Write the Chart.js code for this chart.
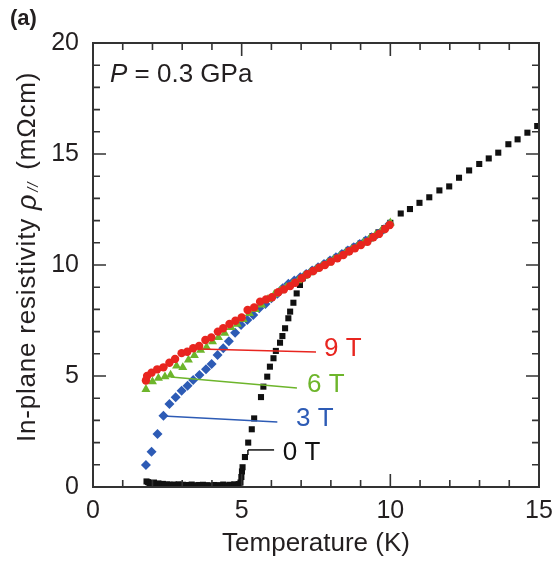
<!DOCTYPE html>
<html><head><meta charset="utf-8">
<script src="https://cdn.jsdelivr.net/npm/chart.js@4/dist/chart.umd.min.js"></script>
<style>html,body{margin:0;padding:0;background:#fff;}#wrap{width:556px;height:567px;}</style>
</head><body><div id="wrap"><canvas id="c" width="556" height="567"></canvas></div>
<script>
// ---- data (Temperature in K, resistivity in mOhm cm) ----
const T_0T = [1.80,1.85,1.90,1.97,2.05,2.12,2.20,2.28,2.35,2.42,2.50,2.58,2.65,2.72,2.80,2.88,2.95,3.02,3.10,3.18,3.25,3.32,3.40,3.48,3.55,3.62,3.70,3.78,3.85,3.92,4.00,4.08,4.15,4.22,4.30,4.38,4.45,4.52,4.60,4.68,4.75,4.82,4.90,4.96,4.99,5.01,5.03,5.11,5.22,5.34,5.42,5.65,5.73,5.86,5.95,6.07,6.15,6.29,6.37,6.46,6.57,6.63,6.74,6.85,6.96,7.05,7.20,7.40,7.60,7.80,8.00,8.20,8.40,8.60,8.80,9.00,9.20,9.40,9.60,9.80,10.00,10.35,10.66,10.98,11.31,11.65,11.98,12.31,12.65,12.99,13.31,13.63,13.97,14.28,14.61,14.94];
const R_0T = [0.25,0.22,0.18,0.15,0.20,0.12,0.16,0.10,0.14,0.08,0.12,0.10,0.06,0.11,0.08,0.12,0.07,0.10,0.05,0.09,0.06,0.11,0.07,0.05,0.09,0.06,0.10,0.05,0.08,0.06,0.04,0.09,0.05,0.08,0.06,0.11,0.05,0.07,0.10,0.06,0.12,0.08,0.13,0.20,0.45,0.70,0.89,1.35,2.00,2.60,3.09,4.05,4.52,4.97,5.42,5.80,6.13,6.50,6.80,7.15,7.60,7.90,8.30,8.72,9.10,9.40,9.60,9.75,9.90,10.05,10.20,10.35,10.50,10.68,10.82,10.97,11.12,11.30,11.47,11.66,11.90,12.32,12.52,12.80,13.05,13.36,13.54,13.93,14.26,14.55,14.80,15.06,15.44,15.66,15.96,16.26];

const T_3T = [1.78,1.97,2.17,2.37,2.57,2.78,2.98,3.18,3.37,3.58,3.80,3.99,4.19,4.38,4.57,4.78,4.98,5.19,5.39,5.59,5.80,6.00,6.20,6.38,6.57,6.77,6.97,7.17,7.37,7.57,7.77,7.97,8.17,8.37,8.57,8.77,8.97,9.17,9.37,9.57,9.77,9.97];
const R_3T = [0.99,1.59,2.39,3.21,3.74,4.04,4.34,4.56,4.82,5.05,5.30,5.54,5.95,6.25,6.57,6.95,7.30,7.52,7.75,8.05,8.24,8.50,8.70,8.95,9.15,9.30,9.45,9.60,9.75,9.90,10.05,10.20,10.35,10.50,10.65,10.80,10.95,11.10,11.25,11.40,11.60,11.85];

const T_6T = [1.78,2.00,2.20,2.42,2.61,2.81,3.02,3.21,3.41,3.62,3.82,4.02,4.22,4.43,4.64,4.85,5.05,5.26,5.46,5.67,5.88,6.10,6.30,6.50,6.70,6.90,7.10,7.30,7.50,7.70,7.90,8.10,8.30,8.50,8.70,8.90,9.10,9.30,9.50,9.70,9.90,10.00];
const R_6T = [4.40,4.74,4.90,4.97,5.05,5.45,5.39,5.72,5.93,6.17,6.30,6.55,6.74,6.93,7.19,7.34,7.55,7.82,8.00,8.20,8.45,8.68,8.85,9.00,9.15,9.30,9.50,9.65,9.80,9.95,10.10,10.25,10.40,10.55,10.70,10.85,11.00,11.18,11.35,11.55,11.75,11.90];

const T_9T = [1.78,1.82,1.97,2.16,2.37,2.57,2.76,2.98,3.17,3.37,3.57,3.78,3.98,4.20,4.38,4.59,4.79,5.00,5.20,5.42,5.62,5.82,6.02,6.23,6.42,6.63,6.80,7.02,7.21,7.41,7.61,7.80,8.00,8.22,8.42,8.62,8.81,9.01,9.23,9.43,9.62,9.82,9.98];
const R_9T = [4.80,5.00,5.15,5.30,5.39,5.60,5.77,6.03,6.09,6.25,6.35,6.62,6.74,7.00,7.15,7.34,7.49,7.64,7.97,8.09,8.35,8.45,8.55,8.77,8.90,9.05,9.20,9.40,9.58,9.73,9.88,10.00,10.15,10.30,10.45,10.62,10.75,10.90,11.05,11.25,11.40,11.62,11.80];

const X_TICKS = [0,5,10,15];
const Y_TICKS = [0,5,10,15,20];

// label leader lines [x1,y1,x2,y2] in data units, and label anchors
const LEAD_9T = [3.56,6.22,7.50,6.08];
const LEAD_6T = [2.62,4.95,6.86,4.46];
const LEAD_3T = [2.36,3.20,6.20,2.93];
const LEAD_0T = [5.21,1.67,6.09,1.67];
const LABELS = [
  {text:'9 T', x:7.77, y:6.22, color:'#e8251f'},
  {text:'6 T', x:7.20, y:4.62, color:'#6db52b'},
  {text:'3 T', x:6.83, y:3.06, color:'#2d5bb5'},
  {text:'0 T', x:6.38, y:1.53, color:'#111111'}
];

const FONT = 'Liberation Sans, Arial, Helvetica, sans-serif';
const pts = (xs, ys) => xs.map((x,i)=>({x:x, y:ys[i]}));
const noPad = s => { s.paddingLeft = 0; s.paddingRight = 0; s.paddingTop = 0; s.paddingBottom = 0; };

const overlay = {
  id:'overlay',
  afterDraw(chart){
    const ctx = chart.ctx, a = chart.chartArea, xs = chart.scales.x, ys = chart.scales.y;
    ctx.save();
    ctx.strokeStyle = '#333'; ctx.lineWidth = 2;
    ctx.strokeRect(a.left, a.top, a.right-a.left, a.bottom-a.top);
    ctx.lineWidth = 1.6;
    for (let v=0; v<=15; v++){
      const px = xs.getPixelForValue(v), L = (v%5===0)?13:7;
      ctx.beginPath(); ctx.moveTo(px,a.bottom); ctx.lineTo(px,a.bottom-L);
      ctx.moveTo(px,a.top); ctx.lineTo(px,a.top+L); ctx.stroke();
    }
    for (let v=0; v<=20; v++){
      const py = ys.getPixelForValue(v), L = (v%5===0)?13:7;
      ctx.beginPath(); ctx.moveTo(a.left,py); ctx.lineTo(a.left+L,py);
      ctx.moveTo(a.right,py); ctx.lineTo(a.right-L,py); ctx.stroke();
    }
    // leader lines
    const line = (p,c) => {
      ctx.strokeStyle=c; ctx.lineWidth=1.5; ctx.beginPath();
      ctx.moveTo(xs.getPixelForValue(p[0]), ys.getPixelForValue(p[1]));
      ctx.lineTo(xs.getPixelForValue(p[2]), ys.getPixelForValue(p[3])); ctx.stroke();
    };
    line(LEAD_9T,'#e8251f'); line(LEAD_6T,'#6db52b'); line(LEAD_3T,'#2d5bb5'); line(LEAD_0T,'#111');
    ctx.beginPath(); ctx.moveTo(xs.getPixelForValue(LEAD_0T[0]), ys.getPixelForValue(LEAD_0T[1]));
    ctx.lineTo(xs.getPixelForValue(LEAD_0T[0]), ys.getPixelForValue(LEAD_0T[1])+5); ctx.stroke();
    // labels
    ctx.font = '26px '+FONT; ctx.textBaseline='middle'; ctx.textAlign='left';
    LABELS.forEach(l=>{ ctx.fillStyle=l.color; ctx.fillText(l.text, xs.getPixelForValue(l.x), ys.getPixelForValue(l.y)); });
    // panel label and pressure
    ctx.fillStyle='#231f20';
    ctx.font='bold 22px '+FONT; ctx.fillText('(a)', 10, 19);
    ctx.font='italic 26px '+FONT; ctx.fillText('P', 110, 75);
    const pw = ctx.measureText('P').width;
    ctx.font='26px '+FONT; ctx.fillText(' = 0.3 GPa', 110+pw, 75);
    // y-axis title
    ctx.translate(28, 257); ctx.rotate(-Math.PI/2);
    try { ctx.letterSpacing = '0.8px'; } catch(e) {}
    const parts = [
      {t:'In-plane resistivity ', f:'26px '+FONT, dy:0},
      {t:'\u03C1', f:'italic 27px '+FONT, dy:0},
      {t:'//', f:'italic 15px '+FONT, dy:6},
      {t:' (m\u03A9cm)', f:'26px '+FONT, dy:0}
    ];
    let total=0; parts.forEach(p=>{ctx.font=p.f; p.w=ctx.measureText(p.t).width; total+=p.w;});
    total += 6;
    let x = -total/2;
    parts.forEach((p,i)=>{ ctx.font=p.f; ctx.fillText(p.t, x, p.dy); x+=p.w; if(i===1) x+=2; if(i===2) x+=4; });
    ctx.restore();
  }
};

new Chart(document.getElementById('c'), {
  type:'scatter',
  data:{datasets:[
    {label:'9 T', data:pts(T_9T,R_9T), pointStyle:'circle', pointRadius:4.2, backgroundColor:'#e8251f', borderColor:'#e8251f', borderWidth:0},
    {label:'6 T', data:pts(T_6T,R_6T), pointStyle:'triangle', pointRadius:5.2, backgroundColor:'#6db52b', borderColor:'#6db52b', borderWidth:0},
    {label:'3 T', data:pts(T_3T,R_3T), pointStyle:'rectRot', pointRadius:5.0, backgroundColor:'#2d5bb5', borderColor:'#2d5bb5', borderWidth:0},
    {label:'0 T', data:pts(T_0T,R_0T), pointStyle:'rect', pointRadius:4.3, backgroundColor:'#111', borderColor:'#111', borderWidth:0}
  ]},
  options:{
    responsive:false, animation:false, devicePixelRatio:1,
    layout:{padding:{left:0,right:17,top:43,bottom:0}},
    plugins:{legend:{display:false}, tooltip:{enabled:false}},
    scales:{
      x:{type:'linear', min:0, max:15,
        afterFit:s=>{s.height=80; noPad(s);},
        afterBuildTicks:s=>{s.ticks = X_TICKS.map(v=>({value:v}));},
        grid:{display:false, drawTicks:false}, border:{display:false},
        ticks:{padding:9, color:'#231f20', font:{family:FONT, size:25}},
        title:{display:true, text:'Temperature (K)', color:'#231f20', font:{family:FONT, size:26}, padding:{top:0,bottom:8}}},
      y:{type:'linear', min:0, max:20,
        afterFit:s=>{s.width=93; noPad(s);},
        afterBuildTicks:s=>{s.ticks = Y_TICKS.map(v=>({value:v}));},
        grid:{display:false, drawTicks:false}, border:{display:false},
        ticks:{padding:14, color:'#231f20', font:{family:FONT, size:25}}}
    }
  },
  plugins:[overlay]
});
</script></body></html>
